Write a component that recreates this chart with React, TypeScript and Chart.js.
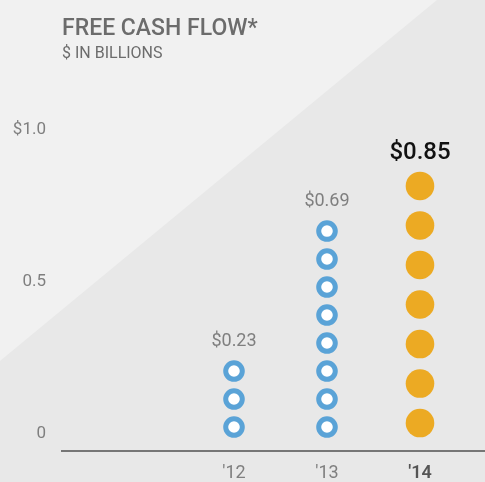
import React, { useEffect, useRef } from "react";
import { Chart, registerables } from "chart.js";

Chart.register(...registerables);

const categories = ["'12", "'13", "'14"];
const values = [0.23, 0.69, 0.85];
const valueLabels = ["$0.23", "$0.69", "$0.85"];
const dotCounts = [3, 8, 7];
const yTicks = [0, 0.5, 1.0];
const yTickLabels = ["0", "0.5", "$1.0"];
const highlightIndex = 2;

const FONT = "Roboto, 'DejaVu Sans', sans-serif";
const BLUE = "#5aa3d7";
const ORANGE = "#ecaa23";

// pictogram layout (value units)
const RING_BASE = 0.022;
const RING_STEP = 0.0921;
const DOT_BASE = 0.035;
const DOT_STEP = 0.13;

function column(i: number, base: number, step: number) {
  const pts: { x: number; y: number }[] = [];
  for (let k = 0; k < dotCounts[i]; k++) pts.push({ x: i, y: base + k * step });
  return pts;
}

const bgPlugin = {
  id: "bg",
  beforeDraw(chart: any) {
    const { ctx, width, height } = chart;
    ctx.save();
    ctx.fillStyle = "#e8e8e8";
    ctx.fillRect(0, 0, width, height);
    ctx.fillStyle = "#f1f1f1";
    ctx.beginPath();
    ctx.moveTo(0, 0);
    ctx.lineTo(437, 0);
    ctx.lineTo(0, 361);
    ctx.closePath();
    ctx.fill();
    ctx.restore();
  },
  afterDraw(chart: any) {
    const { ctx } = chart;
    ctx.save();
    ctx.textAlign = "left";
    ctx.textBaseline = "alphabetic";
    ctx.fillStyle = "#6c6c6c";
    ctx.font = `500 23px ${FONT}`;
    ctx.fillText("FREE CASH FLOW*", 62, 35);
    ctx.font = `400 16px ${FONT}`;
    ctx.fillText("$ IN BILLIONS", 62, 58);
    ctx.restore();
  },
};

const labelPlugin = {
  id: "valueLabels",
  afterDatasetsDraw(chart: any) {
    const { ctx } = chart;
    const xs = chart.scales.x;
    const ys = chart.scales.y;
    ctx.save();
    ctx.textAlign = "center";
    ctx.textBaseline = "middle";
    values.forEach((v, i) => {
      const x = xs.getPixelForValue(i);
      const y = ys.getPixelForValue(v) - 22;
      if (i === highlightIndex) {
        ctx.font = `500 24px ${FONT}`;
        ctx.fillStyle = "#111111";
      } else {
        ctx.font = `400 18px ${FONT}`;
        ctx.fillStyle = "#7f7f7f";
      }
      ctx.fillText(valueLabels[i], x, y);
    });
    ctx.restore();
  },
};

export default function App() {
  const ref = useRef<HTMLCanvasElement | null>(null);
  useEffect(() => {
    if (!ref.current) return;
    const ringData: { x: number; y: number }[] = [];
    const dotData: { x: number; y: number }[] = [];
    categories.forEach((_, i) => {
      if (i === highlightIndex) dotData.push(...column(i, DOT_BASE, DOT_STEP));
      else ringData.push(...column(i, RING_BASE, RING_STEP));
    });
    const chart = new Chart(ref.current, {
      type: "scatter",
      data: {
        datasets: [
          {
            data: ringData,
            pointRadius: 8.3,
            pointHoverRadius: 8.3,
            pointBorderWidth: 5,
            pointBorderColor: BLUE,
            pointBackgroundColor: "#ffffff",
          },
          {
            data: dotData,
            pointRadius: 14.3,
            pointHoverRadius: 14.3,
            pointBorderWidth: 0,
            pointBackgroundColor: ORANGE,
            pointBorderColor: ORANGE,
          },
        ],
      },
      options: {
        responsive: false,
        animation: false,
        layout: { autoPadding: false, padding: { top: 100, left: 0, right: 0, bottom: 0 } },
        plugins: { legend: { display: false }, tooltip: { enabled: false } },
        scales: {
          x: {
            type: "linear",
            min: -1.8495,
            max: 2.699,
            afterBuildTicks(scale: any) {
              scale.ticks = categories.map((_, i) => ({ value: i }));
            },
            afterFit(scale: any) {
              scale.height = 31;
              scale.paddingLeft = 0;
              scale.paddingRight = 0;
            },
            grid: { display: false, drawTicks: false, tickLength: 0 },
            border: { display: true, color: "#767676", width: 2 },
            ticks: {
              padding: 12,
              callback: (v: any) => categories[v as number] ?? "",
              color: (c: any) => (c.index === highlightIndex ? "#555555" : "#7f7f7f"),
              font: (c: any) =>
                c.index === highlightIndex
                  ? { family: FONT, size: 18, weight: "600" }
                  : { family: FONT, size: 18, weight: "normal" },
            },
          },
          y: {
            type: "linear",
            min: -0.0569,
            max: 1.0977,
            afterBuildTicks(scale: any) {
              scale.ticks = yTicks.map((v) => ({ value: v }));
            },
            afterFit(scale: any) {
              scale.width = 62;
              scale.paddingTop = 0;
              scale.paddingBottom = 0;
            },
            grid: { display: false, drawTicks: false, tickLength: 0 },
            border: { display: false },
            ticks: {
              padding: 16,
              color: "#7f7f7f",
              font: { family: FONT, size: 17 },
              callback: (v: any) => {
                const idx = yTicks.indexOf(v as number);
                return idx >= 0 ? yTickLabels[idx] : "";
              },
            },
          },
        },
      },
      plugins: [bgPlugin, labelPlugin],
    });
    return () => chart.destroy();
  }, []);
  return (
    <div style={{ position: "fixed", left: 0, top: 0, width: 485, height: 482 }}>
      <canvas ref={ref} width={485} height={482} style={{ display: "block" }} />
    </div>
  );
}
